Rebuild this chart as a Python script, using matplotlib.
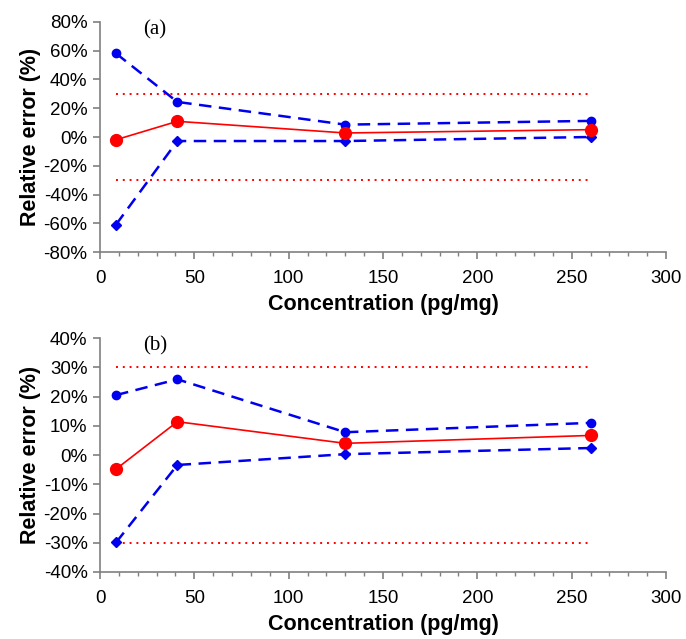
import matplotlib
matplotlib.use("Agg")
import matplotlib.pyplot as plt
from matplotlib.ticker import MultipleLocator, PercentFormatter

plt.rcParams['font.family'] = ['Liberation Sans', 'DejaVu Sans']
plt.rcParams['axes.unicode_minus'] = False

conc = [8.5, 41, 130, 260]

# panel (a)
a_upper = [58.1, 24.4, 8.6, 11.2]
a_mean = [-1.9, 10.9, 2.8, 5.1]
a_lower = [-60.9, -2.8, -2.8, 0.0]

# panel (b)
b_upper = [20.5, 25.9, 7.8, 11.0]
b_mean = [-4.8, 11.4, 4.0, 6.7]
b_lower = [-29.9, -3.4, 0.3, 2.4]

limit = 30

fig = plt.figure(figsize=(6.86, 6.39), dpi=100)
ax1 = fig.add_axes([0.1458, 0.6056, 0.825, 0.36])
ax2 = fig.add_axes([0.1458, 0.1049, 0.825, 0.366])

def draw(ax, upper, mean, lower, ylim, ystep, tag):
	ax.plot([conc[0], conc[-1]], [limit, limit], color='red', ls=(0, (1, 2.5)), lw=1.4)
	ax.plot([conc[0], conc[-1]], [-limit, -limit], color='red', ls=(0, (1, 2.5)), lw=1.4)
	ax.plot(conc, upper, color='#0000ee', ls=(0, (5, 3)), lw=1.8, marker='o', ms=6)
	ax.plot(conc, lower, color='#0000ee', ls=(0, (5, 3)), lw=1.8, marker='D', ms=5)
	ax.plot(conc, mean, color='red', lw=1.2, marker='o', ms=8.5)
	ax.set_xlim(0, 300)
	ax.set_ylim(-ylim, ylim)
	ax.xaxis.set_major_locator(MultipleLocator(50))
	ax.xaxis.set_minor_locator(MultipleLocator(10))
	ax.yaxis.set_major_locator(MultipleLocator(ystep))
	ax.yaxis.set_major_formatter(PercentFormatter(decimals=0))
	for s in ['top', 'right']:
		ax.spines[s].set_visible(False)
	for s in ['left', 'bottom']:
		ax.spines[s].set_color('#808080')
		ax.spines[s].set_linewidth(1.2)
	ax.tick_params(axis='both', which='major', labelsize=13.5, color='#808080', width=1.2, length=5, pad=4)
	ax.tick_params(axis='x', which='minor', color='#808080', width=1, length=3)
	ax.tick_params(axis='x', which='major', pad=8)
	ax.set_xlabel('Concentration (pg/mg)', fontsize=15.5, fontweight='bold', labelpad=5)
	ax.set_ylabel('Relative error (%)', fontsize=15.5, fontweight='bold', labelpad=2)
	ax.text(0.076, 0.965, tag, transform=ax.transAxes, family='Liberation Serif',
		fontsize=15, va='center', ha='left')

draw(ax1, a_upper, a_mean, a_lower, 80, 20, '(a)')
draw(ax2, b_upper, b_mean, b_lower, 40, 10, '(b)')

fig.savefig('out.png', dpi=100)
